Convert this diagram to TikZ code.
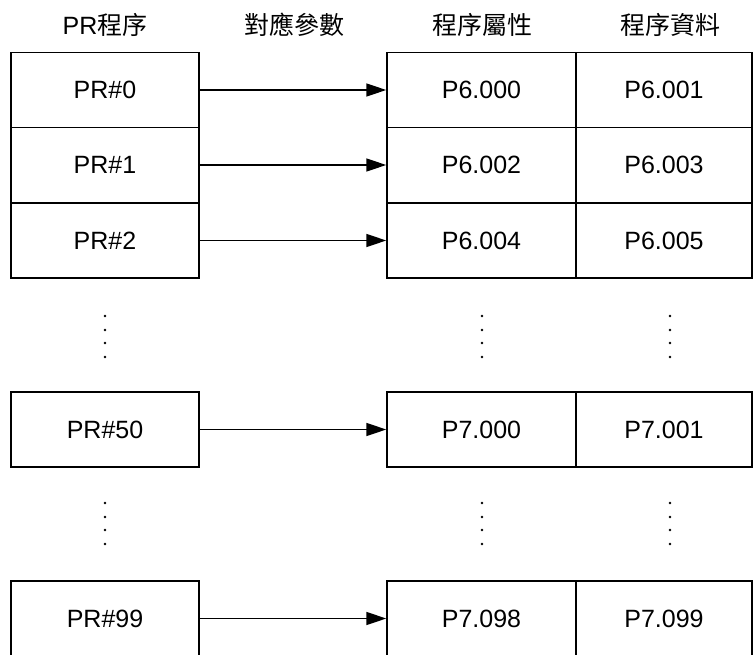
\documentclass[tikz,border=0pt]{standalone}
\usepackage{fontspec}
\setmainfont{Liberation Sans}
\newfontfamily\cjk{Noto Sans CJK TC}
\usetikzlibrary{arrows.meta}

\begin{document}
\begin{tikzpicture}[x=1pt, y=-1pt,
  cell/.style={draw, line width=1.5pt, minimum height=75pt, inner sep=0pt,
               font=\fontsize{25}{30}\selectfont},
  prcell/.style={cell, minimum width=188pt},
  attrcell/.style={cell, minimum width=189pt},
  datacell/.style={cell, minimum width=176pt},
  head/.style={anchor=base, font=\fontsize{25}{30}\selectfont},
  link/.style={line width=1.5pt, -{Triangle[length=20pt, width=13pt]}},
]
\useasboundingbox (0,0) rectangle (754,655);

\node[head] (h1) at (105, 35) {PR{\cjk 程序}};
\node[head] (h2) at (294, 35) {\cjk 對應參數};
\node[head] (h3) at (482, 35) {\cjk 程序屬性};
\node[head] (h4) at (670, 35) {\cjk 程序資料};

\node[prcell] (p0) at (105, 90) {PR\#0};
\node[prcell] (p1) at (105, 165) {PR\#1};
\node[prcell] (p2) at (105, 240.5) {PR\#2};
\node[prcell] (p50) at (105, 429.5) {PR\#50};
\node[prcell] (p99) at (105, 618.5) {PR\#99};

\node[attrcell] (a0) at (481.5, 90) {P6.000};
\node[attrcell] (a1) at (481.5, 165) {P6.002};
\node[attrcell] (a2) at (481.5, 240.5) {P6.004};
\node[attrcell] (a50) at (481.5, 429.5) {P7.000};
\node[attrcell] (a99) at (481.5, 618.5) {P7.098};

\node[datacell] (d0) at (664, 90) {P6.001};
\node[datacell] (d1) at (664, 165) {P6.003};
\node[datacell] (d2) at (664, 240.5) {P6.005};
\node[datacell] (d50) at (664, 429.5) {P7.001};
\node[datacell] (d99) at (664, 618.5) {P7.099};

\draw[link] (p0) -- (a0);
\draw[link] (p1) -- (a1);
\draw[link] (p2) -- (a2);
\draw[link] (p50) -- (a50);
\draw[link] (p99) -- (a99);

% vertical ellipses
\foreach \x in {105, 482, 670}
  \foreach \y in {316, 330, 343, 357, 503, 517, 530, 544}
    \fill (\x, \y) circle (1.4pt);

\end{tikzpicture}
\end{document}
